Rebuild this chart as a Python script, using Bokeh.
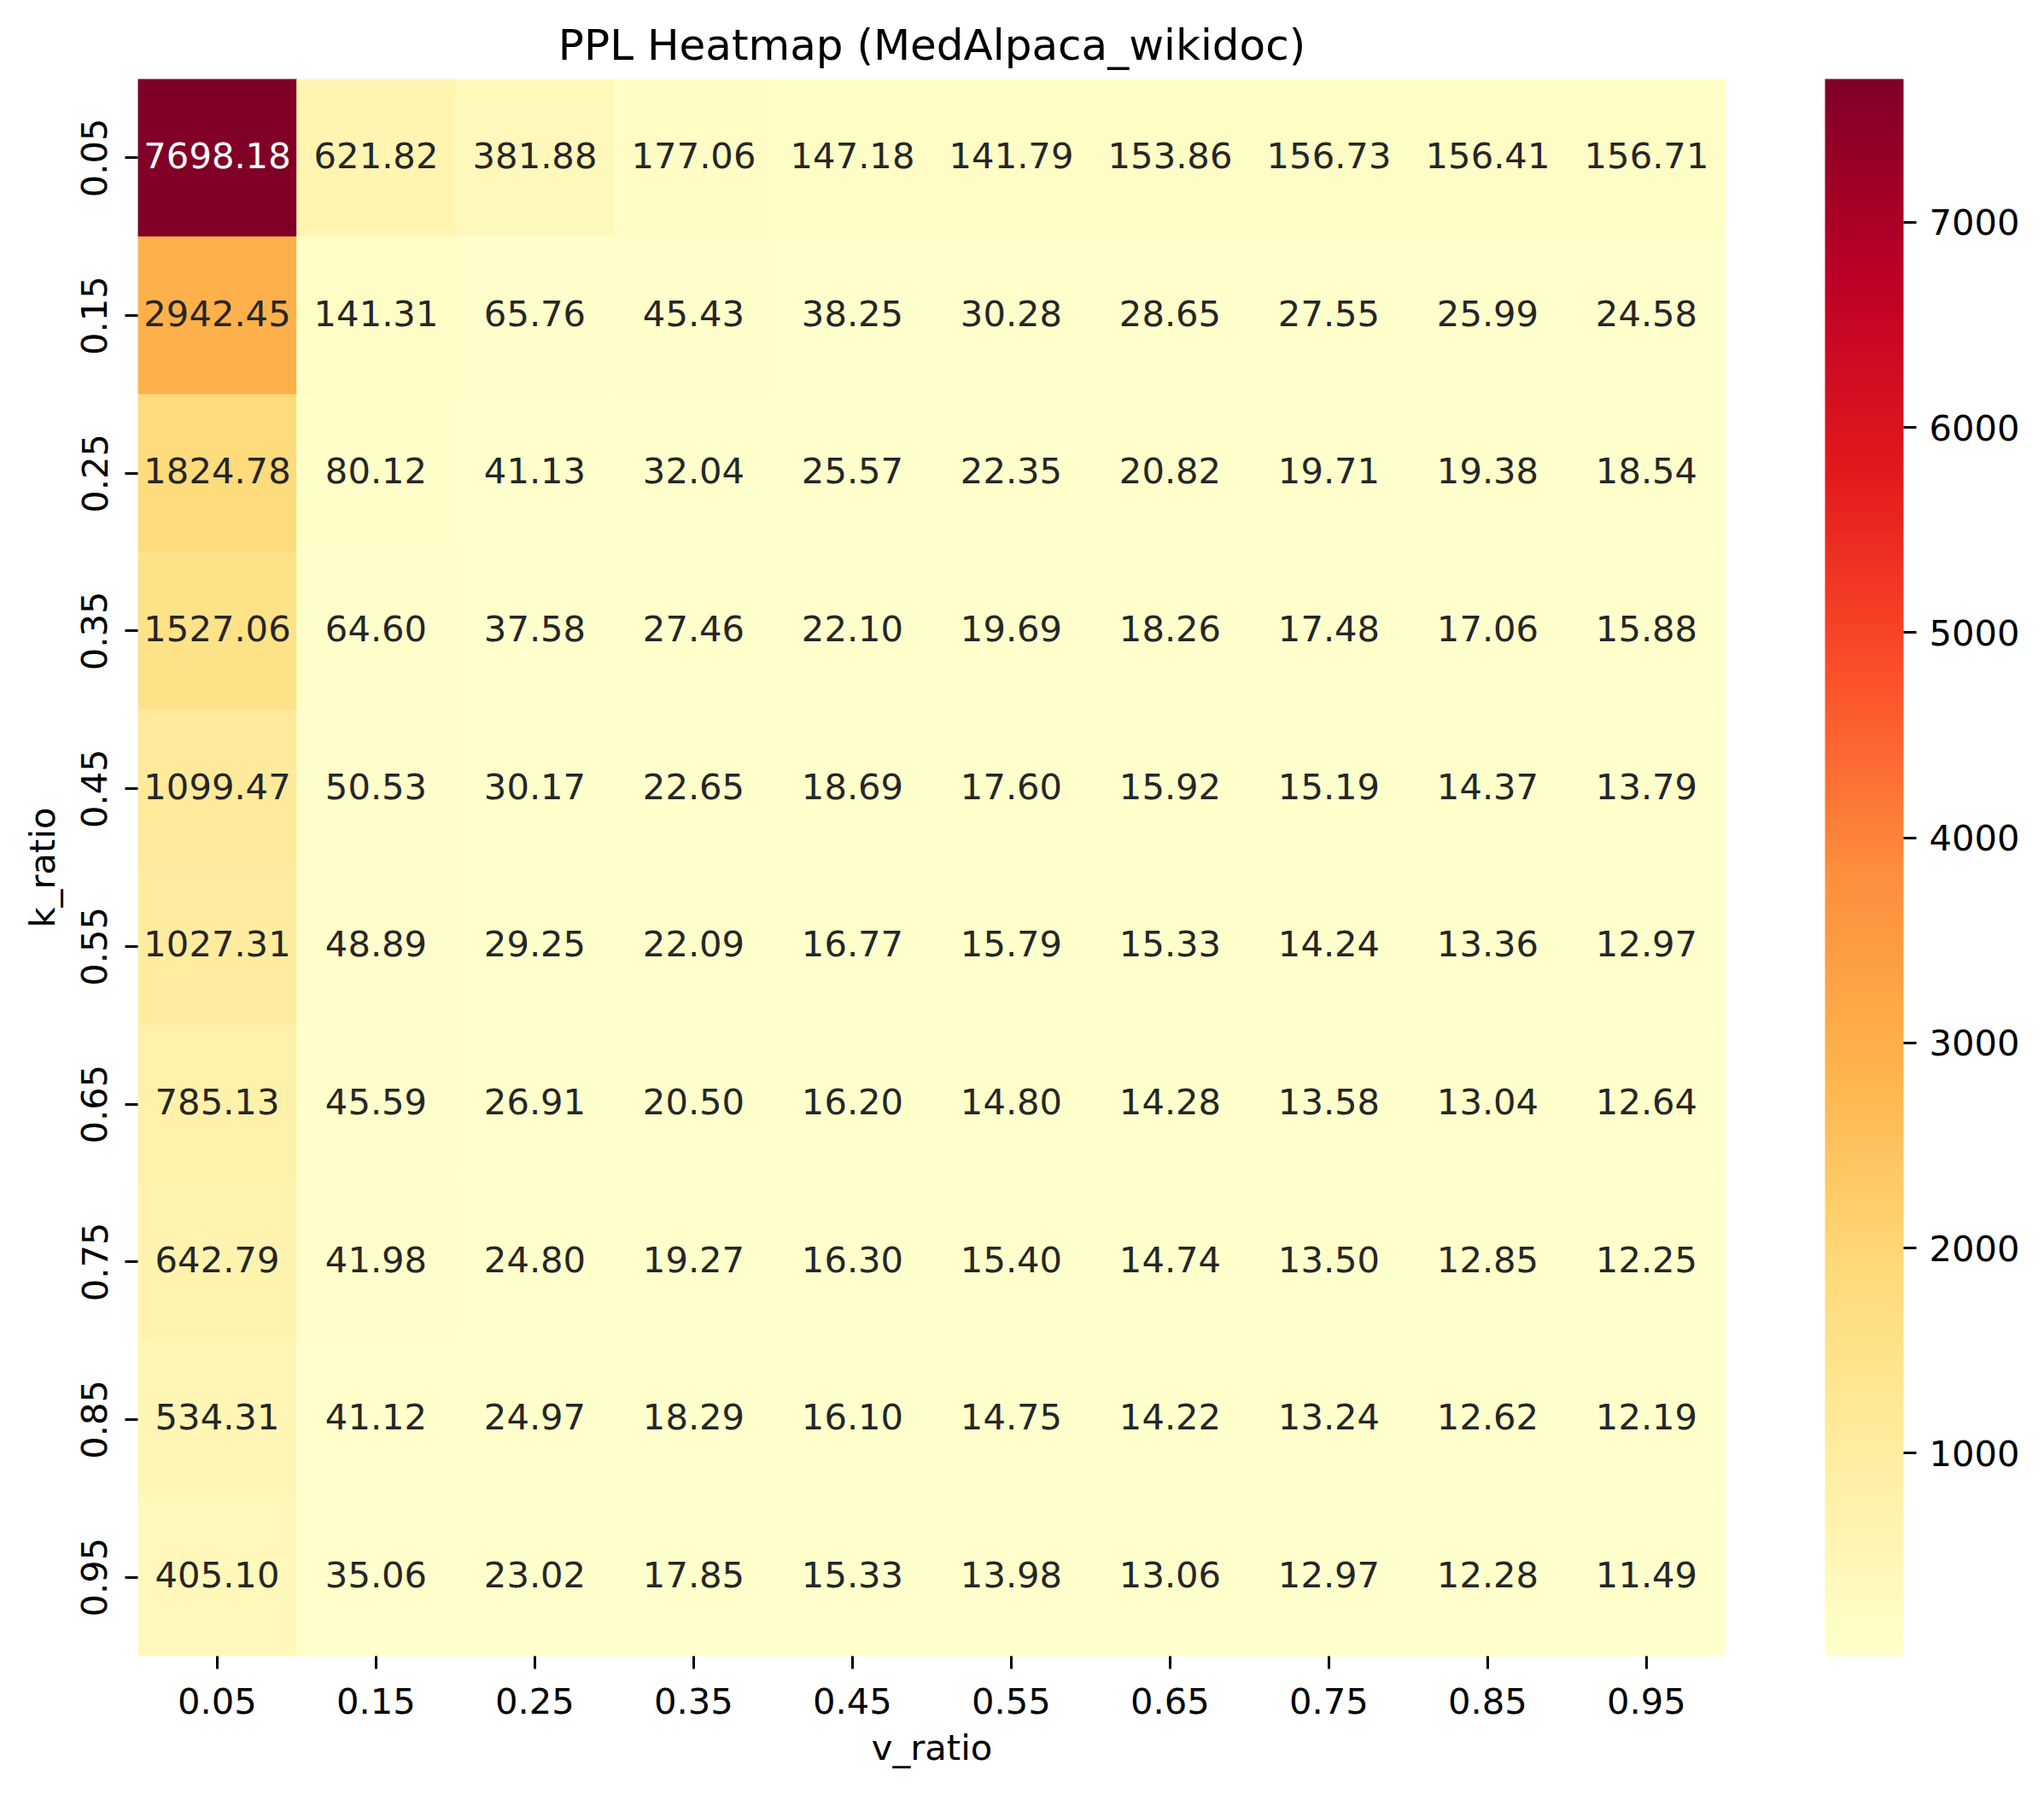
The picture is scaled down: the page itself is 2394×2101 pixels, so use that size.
import numpy as np
from bokeh.plotting import figure
from bokeh.models import (ColumnDataSource, FactorRange, LinearColorMapper, ColorBar,
                          FixedTicker)
from bokeh.embed import file_html
from bokeh.resources import INLINE
from bokeh.core.properties import value

# ---------------- data ----------------
v_labels = ["0.05", "0.15", "0.25", "0.35", "0.45", "0.55", "0.65", "0.75", "0.85", "0.95"]
k_labels = ["0.05", "0.15", "0.25", "0.35", "0.45", "0.55", "0.65", "0.75", "0.85", "0.95"]

row_k005 = [7698.18, 621.82, 381.88, 177.06, 147.18, 141.79, 153.86, 156.73, 156.41, 156.71]
row_k015 = [2942.45, 141.31, 65.76, 45.43, 38.25, 30.28, 28.65, 27.55, 25.99, 24.58]
row_k025 = [1824.78, 80.12, 41.13, 32.04, 25.57, 22.35, 20.82, 19.71, 19.38, 18.54]
row_k035 = [1527.06, 64.60, 37.58, 27.46, 22.10, 19.69, 18.26, 17.48, 17.06, 15.88]
row_k045 = [1099.47, 50.53, 30.17, 22.65, 18.69, 17.60, 15.92, 15.19, 14.37, 13.79]
row_k055 = [1027.31, 48.89, 29.25, 22.09, 16.77, 15.79, 15.33, 14.24, 13.36, 12.97]
row_k065 = [785.13, 45.59, 26.91, 20.50, 16.20, 14.80, 14.28, 13.58, 13.04, 12.64]
row_k075 = [642.79, 41.98, 24.80, 19.27, 16.30, 15.40, 14.74, 13.50, 12.85, 12.25]
row_k085 = [534.31, 41.12, 24.97, 18.29, 16.10, 14.75, 14.22, 13.24, 12.62, 12.19]
row_k095 = [405.10, 35.06, 23.02, 17.85, 15.33, 13.98, 13.06, 12.97, 12.28, 11.49]

rows = [row_k005, row_k015, row_k025, row_k035, row_k045,
        row_k055, row_k065, row_k075, row_k085, row_k095]

colorbar_ticks = [1000, 2000, 3000, 4000, 5000, 6000, 7000]

# ---------------- colormap (YlOrRd, 256 steps from the 9 brewer anchors) ----------------
anchors = ["#ffffcc", "#ffeda0", "#fed976", "#feb24c", "#fd8d3c",
           "#fc4e2a", "#e31a1c", "#bd0026", "#800026"]
anc = np.array([[int(h[i:i + 2], 16) for i in (1, 3, 5)] for h in anchors], dtype=float)
palette = []
for i in range(256):
    t = i / 255 * (len(anchors) - 1)
    j = min(int(np.floor(t)), len(anchors) - 2)
    f = t - j
    c = anc[j] * (1 - f) + anc[j + 1] * f
    palette.append("#%02x%02x%02x" % tuple(int(round(x)) for x in c))

all_vals = [v for r in rows for v in r]
vmin, vmax = min(all_vals), max(all_vals)


def lum(hexc):
    rgb = np.array([int(hexc[i:i + 2], 16) for i in (1, 3, 5)]) / 255.0
    lin = np.where(rgb <= 0.03928, rgb / 12.92, ((rgb + 0.055) / 1.055) ** 2.4)
    return 0.2126 * lin[0] + 0.7152 * lin[1] + 0.0722 * lin[2]


xs, ys, vals, txt, tcol = [], [], [], [], []
for k, r in zip(k_labels, rows):
    for v_lab, val in zip(v_labels, r):
        xs.append(v_lab)
        ys.append(k)
        vals.append(val)
        txt.append("%.2f" % val)
        idx = min(int((val - vmin) / (vmax - vmin) * 256), 255)
        tcol.append("#ffffff" if lum(palette[idx]) < 0.408 else "#262626")

src = ColumnDataSource(dict(x=xs, y=ys, val=vals, txt=txt, tcol=tcol))

mapper = LinearColorMapper(palette=palette, low=vmin, high=vmax)

FONT = "DejaVu Sans"
FS = "41.67px"

p = figure(width=2386, height=2093,
           x_range=FactorRange(*v_labels),
           y_range=FactorRange(*list(reversed(k_labels))),
           output_backend="svg", toolbar_location=None,
           min_border_left=161, min_border_right=365,
           min_border_top=92, min_border_bottom=154)

p.rect(x="x", y="y", width=1, height=1, source=src,
       fill_color={"field": "val", "transform": mapper},
       line_color={"field": "val", "transform": mapper}, line_width=0.6)

p.text(x="x", y="y", text="txt", source=src, text_color="tcol",
       text_align="center", text_baseline="middle", y_offset=-3,
       text_font=value(FONT), text_font_size=FS)

p.title.text = "PPL Heatmap (MedAlpaca_wikidoc)"
p.title.align = "center"
p.title.text_font = FONT
p.title.text_font_size = "50px"
p.title.text_font_style = "normal"
p.title.text_color = "#000000"
p.title.standoff = 21

p.outline_line_color = None
p.grid.grid_line_color = None
p.background_fill_color = "#ffffff"

for ax in (p.xaxis[0], p.yaxis[0]):
    ax.axis_line_color = None
    ax.major_tick_out = 15
    ax.major_tick_in = 0
    ax.major_tick_line_width = 3
    ax.major_tick_line_color = "#000000"
    ax.minor_tick_line_color = None
    ax.major_label_text_font = FONT
    ax.major_label_text_font_size = FS
    ax.major_label_text_color = "#000000"
    ax.axis_label_text_font = FONT
    ax.axis_label_text_font_size = FS
    ax.axis_label_text_font_style = "normal"
    ax.axis_label_text_color = "#000000"

p.xaxis.axis_label = "v_ratio"
p.yaxis.axis_label = "k_ratio"
p.xaxis.major_label_standoff = 22
p.xaxis.axis_label_standoff = 12
p.yaxis.major_label_standoff = 21
p.yaxis.axis_label_standoff = 19
p.yaxis.major_label_orientation = "vertical"

cb = ColorBar(color_mapper=mapper, ticker=FixedTicker(ticks=colorbar_ticks),
              width=92, height=1847, padding=0, margin=0,
              location=(1976, 0),
              major_tick_out=15, major_tick_in=0,
              major_tick_line_color="#000000", major_tick_line_width=3,
              minor_tick_line_color=None, bar_line_color=None,
              border_line_color=None, background_fill_alpha=0,
              label_standoff=15,
              major_label_text_font=FONT, major_label_text_font_size=FS,
              major_label_text_color="#000000")
p.add_layout(cb, "center")

open("out.html", "w").write(file_html(p, INLINE))
